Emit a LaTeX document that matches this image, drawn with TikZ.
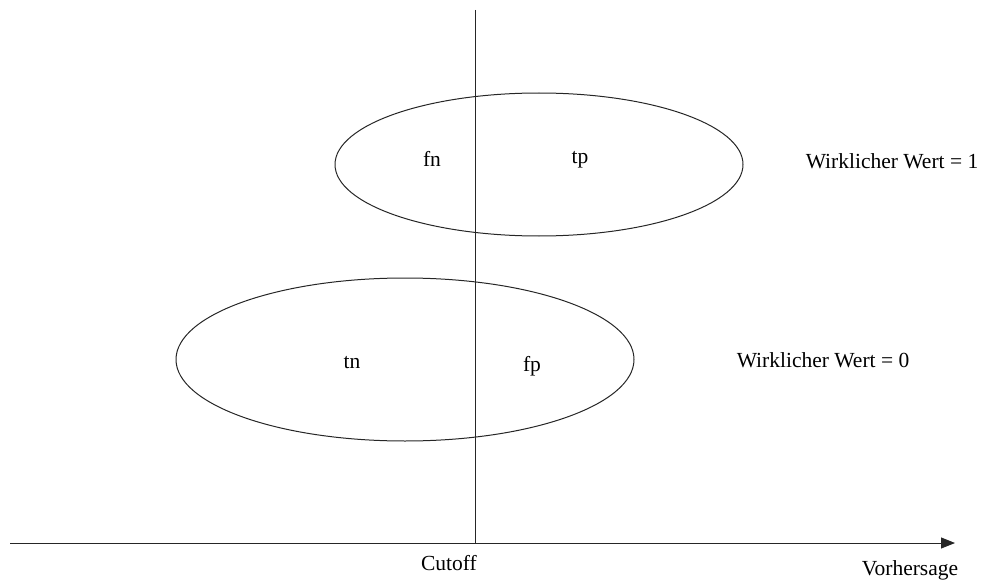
\documentclass[tikz,border=0pt]{standalone}
\usepackage{fontspec}
\setmainfont{Liberation Serif}
\usetikzlibrary{arrows.meta}
\begin{document}
\begin{tikzpicture}[x=1pt,y=-1pt,
  lab/.style={inner sep=0pt,font=\fontsize{21.5}{24}\selectfont},
  ln/.style={line width=1pt,draw=black!85}]
\useasboundingbox (0,0) rectangle (985,583);
\coordinate (xs) at (10,543);
\coordinate (xe) at (955,543);
\coordinate (ys) at (475,10);
\coordinate (ye) at (475,543);
\draw[ln] (539,164.5) ellipse [x radius=204, y radius=71.5];
\draw[ln] (405,359.5) ellipse [x radius=229, y radius=81.5];
\draw[ln] (ys) -- (ye);
\draw[ln,-{Triangle[length=14pt,width=11pt]}] (xs) -- (xe);
\node[lab] (fn) at (432,159) {fn};
\node[lab] (tp) at (580,160) {tp};
\node[lab] (tn) at (352,363) {tn};
\node[lab] (fp) at (532,366) {fp};
\node[lab] (w1) at (892,161) {Wirklicher Wert = 1};
\node[lab] (w0) at (823,360) {Wirklicher Wert = 0};
\node[lab] (cut) at (449,563) {Cutoff};
\node[lab] (vh) at (910,570) {Vorhersage};
\end{tikzpicture}
\end{document}
